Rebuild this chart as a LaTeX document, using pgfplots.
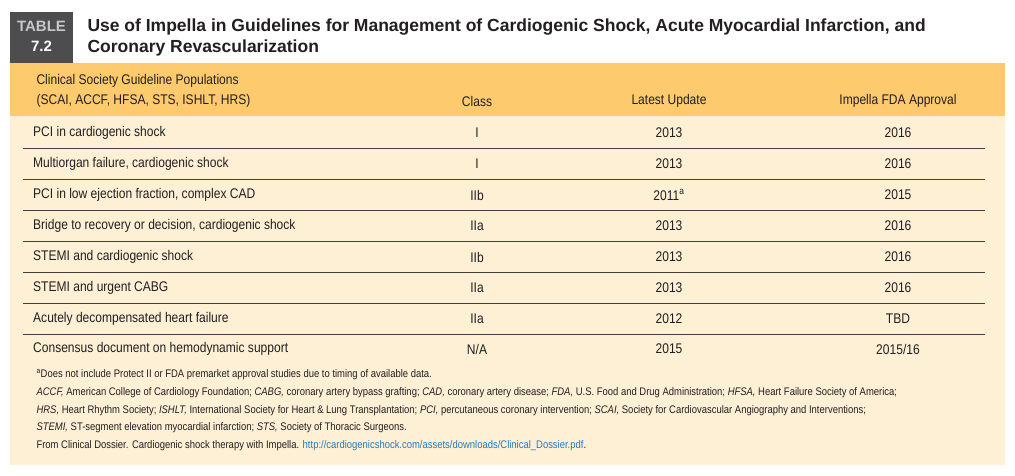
\documentclass[border=0pt]{standalone}
\usepackage{pgfplots}
\usepackage{pgfplotstable}
\pgfplotsset{compat=1.18}
\usepackage{fontspec}
\setmainfont{Liberation Sans}[FakeStretch=0.86]
\newfontfamily\titlefont{Liberation Sans}
\definecolor{boxgray}{HTML}{4D4D4F}
\definecolor{hdr}{HTML}{FDCB6E}
\definecolor{cream}{HTML}{FEF0D5}
\definecolor{url}{HTML}{1F7BC1}
\definecolor{txt}{HTML}{231F20}
\pgfplotstableread[col sep=semicolon]{
x;y;lab
33;133;PCI in cardiogenic shock
33;164;Multiorgan failure, cardiogenic shock
33;195;PCI in low ejection fraction, complex CAD
33;226;Bridge to recovery or decision, cardiogenic shock
33;257;STEMI and cardiogenic shock
33;288;STEMI and urgent CABG
33;319;Acutely decompensated heart failure
33;349;Consensus document on hemodynamic support
}\colA
\pgfplotstableread[col sep=semicolon]{
x;y;lab
477;133;I
477;164;I
477;195;IIb
477;226;IIa
477;257;IIb
477;288;IIa
477;319;IIa
477;349;N/A
}\colB
\pgfplotstableread[col sep=semicolon]{
x;y;lab
669;133;2013
669;164;2013
669;195;{2011\textsuperscript{a}}
669;226;2013
669;257;2013
669;288;2013
669;319;2012
669;349;2015
}\colC
\pgfplotstableread[col sep=semicolon]{
x;y;lab
898;133;2016
898;164;2016
898;195;2015
898;226;2016
898;257;2016
898;288;2016
898;319;TBD
898;349;2015/16
}\colD
\begin{document}
\begin{tikzpicture}
\begin{axis}[x=1pt,y=1pt,y dir=reverse,xmin=0,xmax=1015,ymin=0,ymax=476,
  hide axis,clip=false,scale only axis,
  every node near coord/.style={anchor=center,inner sep=0pt,font=\fontsize{14}{16}\selectfont,text=txt},
  nodes near coords,point meta=explicit symbolic]
\fill[white] (axis cs:0,0) rectangle (axis cs:1015,476);
\fill[cream] (axis cs:10,63) rectangle (axis cs:1005,465);
\fill[hdr] (axis cs:10,63) rectangle (axis cs:1005,116);
\fill[boxgray] (axis cs:10,12) rectangle (axis cs:73,63);
\node[font=\titlefont\bfseries\fontsize{15}{17}\selectfont,text=black!22] at (axis cs:41.5,26) {TABLE};
\node[font=\titlefont\bfseries\fontsize{15}{17}\selectfont,text=white] at (axis cs:41.5,46) {7.2};
\node[anchor=west,font=\titlefont\bfseries\fontsize{17.5}{20}\selectfont,text=txt] at (axis cs:84,27) {Use of Impella in Guidelines for Management of Cardiogenic Shock, Acute Myocardial Infarction, and};
\node[anchor=west,font=\titlefont\bfseries\fontsize{17.5}{20}\selectfont,text=txt] at (axis cs:84,48) {Coronary Revascularization};
\begin{scope}[font=\fontsize{14}{16}\selectfont,text=txt]
\node[anchor=west] at (axis cs:33,81) {Clinical Society Guideline Populations};
\node[anchor=west] at (axis cs:33,101) {(SCAI, ACCF, HFSA, STS, ISHLT, HRS)};
\node at (axis cs:477,101) {Class};
\node at (axis cs:669,101) {Latest Update};
\node at (axis cs:898,101) {Impella FDA Approval};
\end{scope}
\pgfplotsinvokeforeach{148,179,210,241,272,303,334}{
  \draw[black!75,line width=0.6pt] (axis cs:23,#1) -- (axis cs:985,#1);}
\addplot[draw=none,mark=none,every node near coord/.append style={anchor=west}] table[x=x,y=y,meta=lab]{\colA};
\addplot[draw=none,mark=none] table[x=x,y=y,meta=lab]{\colB};
\addplot[draw=none,mark=none] table[x=x,y=y,meta=lab]{\colC};
\addplot[draw=none,mark=none] table[x=x,y=y,meta=lab]{\colD};
\begin{scope}[font=\fontsize{11}{13}\selectfont,text=txt]
\node[anchor=west] at (axis cs:33,375) {\textsuperscript{a}Does not include Protect II or FDA premarket approval studies due to timing of available data.};
\node[anchor=west] at (axis cs:33,393) {\textit{ACCF,} American College of Cardiology Foundation; \textit{CABG,} coronary artery bypass grafting; \textit{CAD,} coronary artery disease; \textit{FDA,} U.S. Food and Drug Administration; \textit{HFSA,} Heart Failure Society of America;};
\node[anchor=west] at (axis cs:33,411) {\textit{HRS,} Heart Rhythm Society; \textit{ISHLT,} International Society for Heart \& Lung Transplantation; \textit{PCI,} percutaneous coronary intervention; \textit{SCAI,} Society for Cardiovascular Angiography and Interventions;};
\node[anchor=west] at (axis cs:33,428) {\textit{STEMI,} ST-segment elevation myocardial infarction; \textit{STS,} Society of Thoracic Surgeons.};
\node[anchor=west] at (axis cs:33,446) {From Clinical Dossier. Cardiogenic shock therapy with Impella. \textcolor{url}{http://cardiogenicshock.com/assets/downloads/Clinical\_Dossier.pdf}.};
\end{scope}
\end{axis}
\end{tikzpicture}
\end{document}
